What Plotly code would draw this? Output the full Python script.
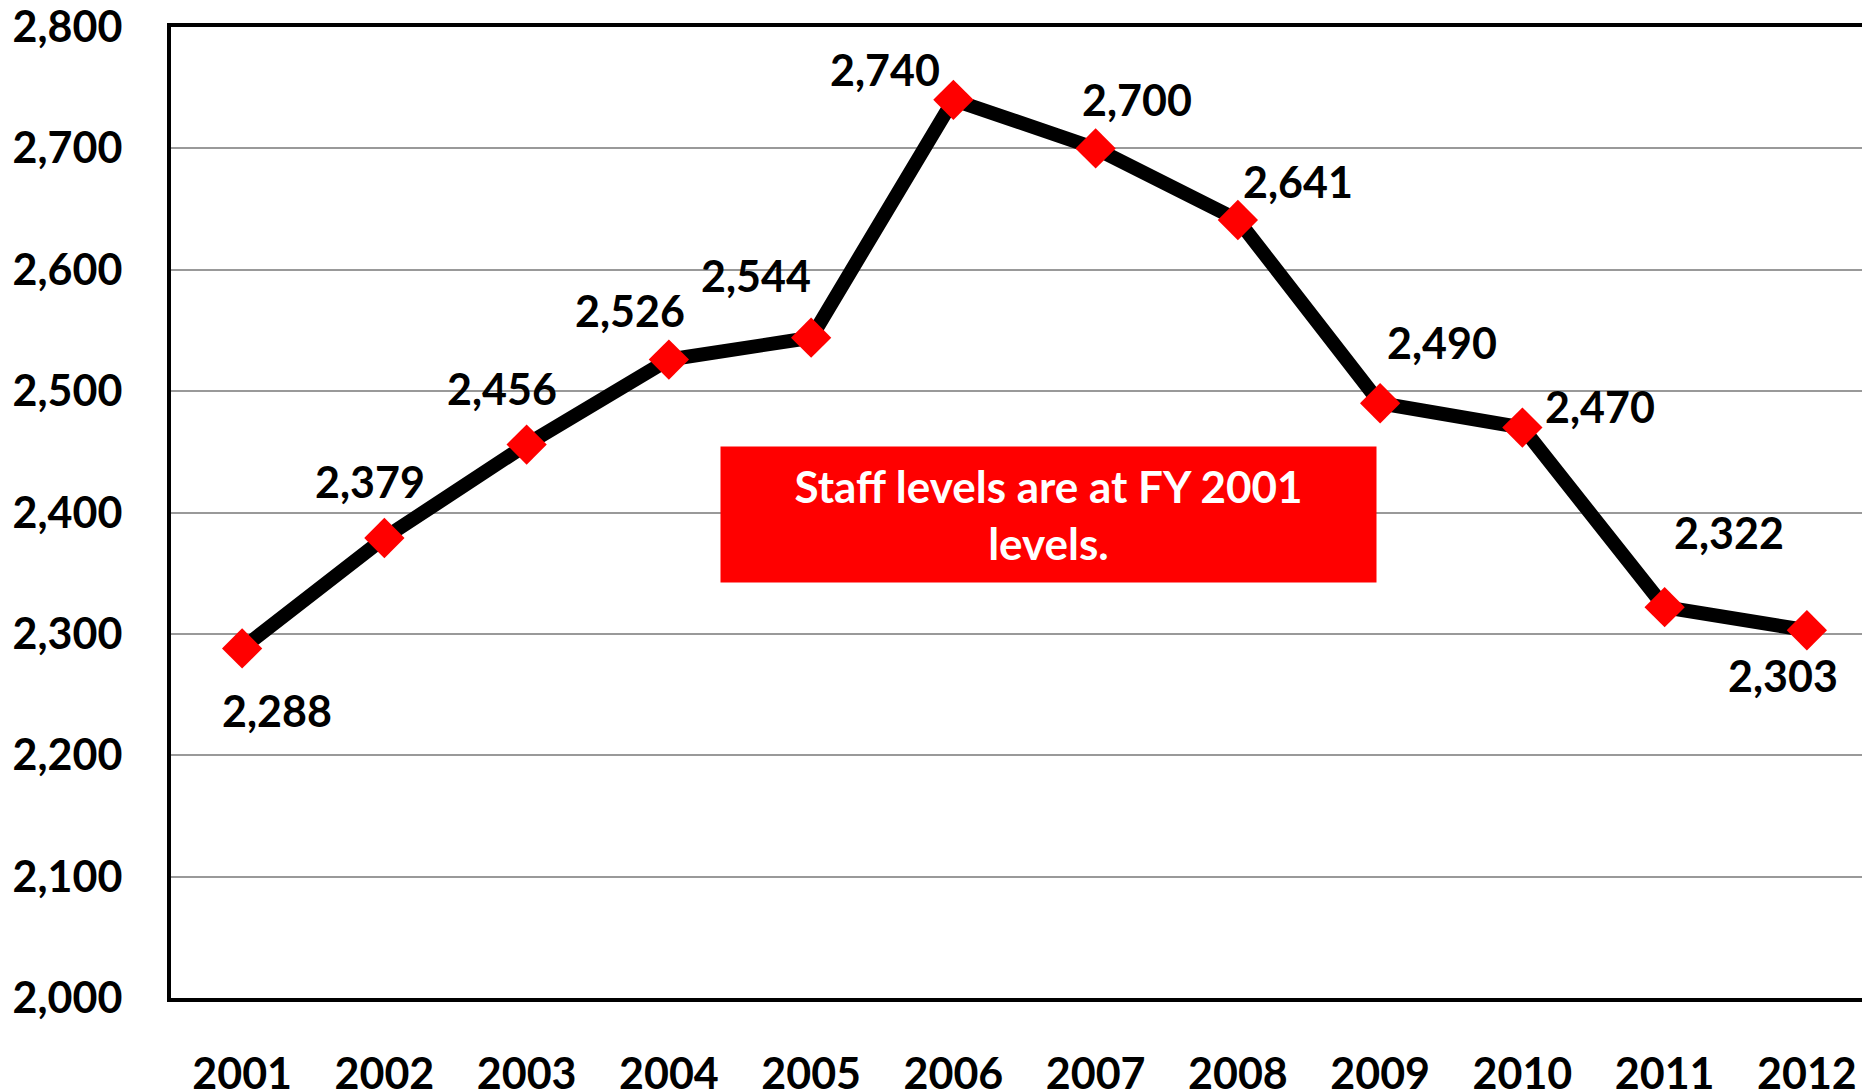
import plotly.graph_objects as go

years = ["2001", "2002", "2003", "2004", "2005", "2006",
         "2007", "2008", "2009", "2010", "2011", "2012"]
staff = [2288, 2379, 2456, 2526, 2544, 2740, 2700, 2641, 2490, 2470, 2322, 2303]

# label offsets in pixels (dx, dy up) around each point
label_dx = [35, -14, -25, -39, -55, -68, 41, 60, 62, 78, 64, -24]
label_dy = [-62, 56, 56, 49, 62, 30, 49, 38, 61, 21, 75, -45]

note_text = "Staff levels are at FY 2001<br>levels."

FONT = "Lato"
SIZE = 43

fig = go.Figure()
fig.add_trace(go.Scatter(
    x=years, y=staff, mode="lines+markers",
    line=dict(color="black", width=14),
    marker=dict(symbol="diamond", size=31, color="#ff0000"),
    showlegend=False, hoverinfo="x+y",
))

for i, (v, dx, dy) in enumerate(zip(staff, label_dx, label_dy)):
    fig.add_annotation(
        x=i, y=v, xref="x", yref="y", text=f"{v:,}", showarrow=False,
        xshift=dx, yshift=dy,
        font=dict(family=FONT, size=SIZE, color="black", weight="bold"),
    )

fig.add_annotation(
    x=5.67, y=2398, xref="x", yref="y", text=note_text, showarrow=False,
    bgcolor="#ff0000", width=651, height=131, borderpad=2,
    font=dict(family=FONT, size=44, color="white", weight="bold"),
    align="center", valign="middle",
)

# the page body adds an 8px offset, so margins are trimmed to suit
fig.update_layout(
    width=1870, height=1092,
    margin=dict(l=163, r=0, t=19, b=102),
    plot_bgcolor="white", paper_bgcolor="white",
    font=dict(family=FONT, size=SIZE, color="black", weight="bold"),
)
fig.update_xaxes(
    type="category", range=[-0.5, 11.5], automargin=False,
    showline=True, linecolor="black", linewidth=4, mirror=True,
    showgrid=False, ticks="", ticklabelstandoff=35,
    ticklabeloverflow="allow",
    tickfont=dict(family=FONT, size=SIZE, color="black", weight="bold"),
)
fig.update_yaxes(
    range=[2000, 2800], dtick=100, tickformat=",", automargin=False,
    showline=True, linecolor="black", linewidth=4,
    showgrid=True, gridcolor="#999999", gridwidth=2,
    zeroline=False, ticks="", ticklabelstandoff=36,
    ticklabeloverflow="allow",
    tickfont=dict(family=FONT, size=SIZE, color="black", weight="bold"),
)

fig.write_html("out.html")
